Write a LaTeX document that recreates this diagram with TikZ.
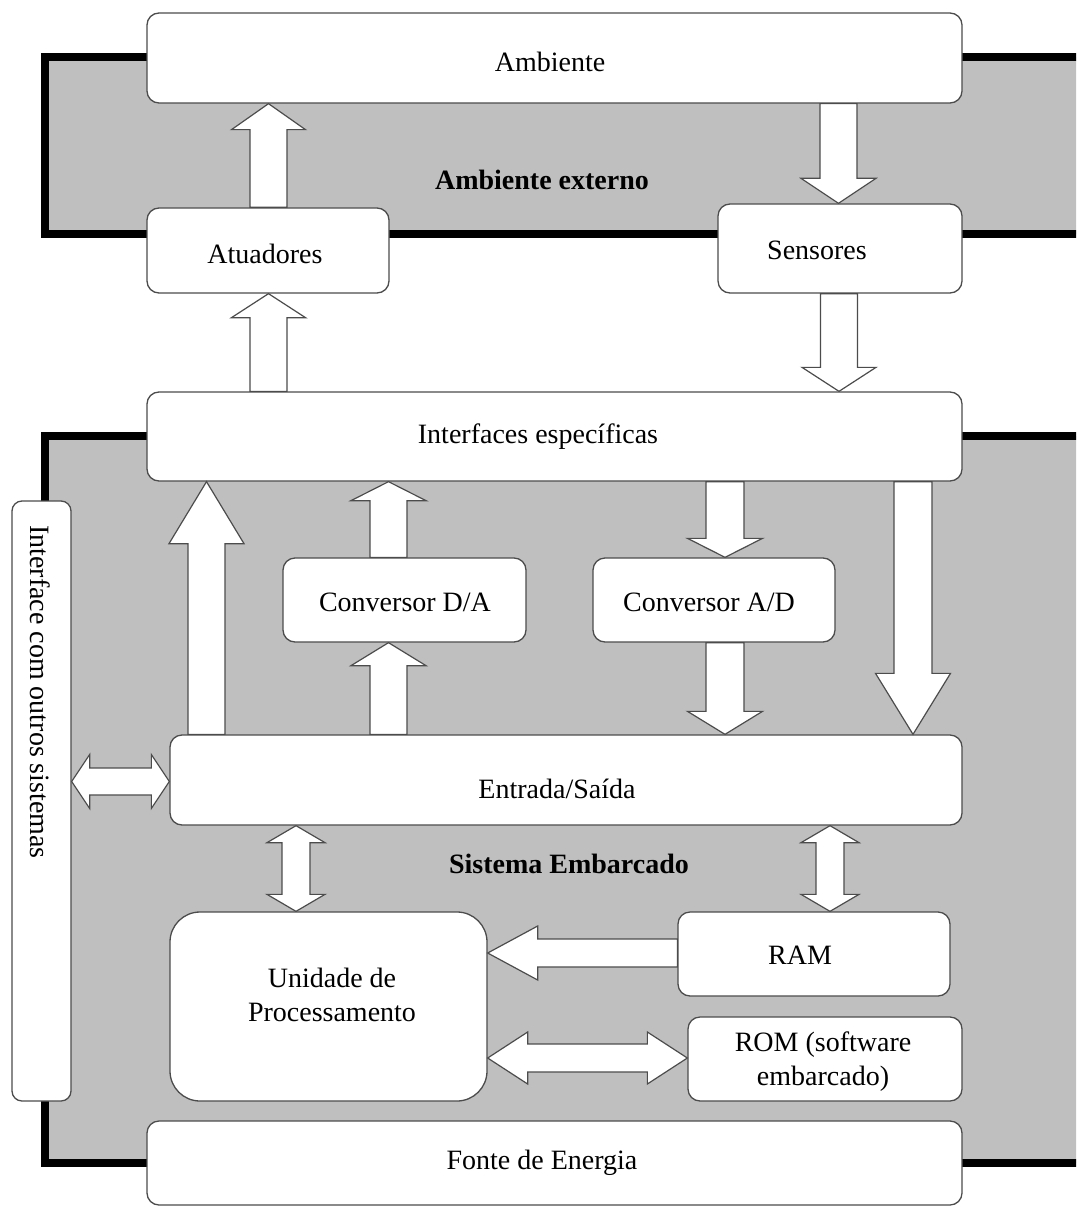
\documentclass[tikz,border=0pt]{standalone}
\usepackage{fontspec}
\setmainfont{Liberation Serif}
\usetikzlibrary{calc}
\definecolor{bandgray}{RGB}{191,191,191}
\newcommand\blockarrow[5]{%
  \path ($(#2)!#5!(#1)$) coordinate (hb);
  \draw[arr] ($(#1)!#3!90:(#2)$) -- ($(hb)!#3!90:(#2)$) -- ($(hb)!#4!90:(#2)$) -- (#2)
    -- ($(hb)!#4!-90:(#2)$) -- ($(hb)!#3!-90:(#2)$) -- ($(#1)!#3!-90:(#2)$) -- cycle;}
\newcommand\dblarrow[5]{%
  \path ($(#1)!#5!(#2)$) coordinate (ha) ($(#2)!#5!(#1)$) coordinate (hb);
  \draw[arr] (#1) -- ($(ha)!#4!90:(#2)$) -- ($(ha)!#3!90:(#2)$) -- ($(hb)!#3!90:(#2)$)
    -- ($(hb)!#4!90:(#2)$) -- (#2) -- ($(hb)!#4!-90:(#2)$) -- ($(hb)!#3!-90:(#2)$)
    -- ($(ha)!#3!-90:(#2)$) -- ($(ha)!#4!-90:(#2)$) -- cycle;}
\begin{document}
\begin{tikzpicture}[x=1pt,y=-1pt,
  band/.style={draw=black,line width=8pt,fill=bandgray},
  box/.style={draw=black!70,line width=1.3pt,fill=white,rounded corners=12pt,inner sep=0pt},
  arr/.style={draw=black!70,line width=1.2pt,fill=white,line join=miter},
  lbl/.style={font=\fontsize{28}{34}\selectfont,inner sep=0pt,align=center},
  blbl/.style={font=\fontsize{28}{34}\selectfont\bfseries,inner sep=0pt,align=center}]
\useasboundingbox (0,0) rectangle (1076,1206);
\clip (0,0) rectangle (1076,1206);
\fill[white] (0,0) rectangle (1076,1206);
% bands
\draw[band] (45,57) rectangle (1120,234.5);
\draw[band] (45,435.5) rectangle (1120,1162.5);
% boxes
\node[box,minimum width=815pt,minimum height=90pt] (amb) at (554.5,58) {};
\node[box,minimum width=242pt,minimum height=85pt] (atu) at (268,250.5) {};
\node[box,minimum width=244pt,minimum height=89pt] (sen) at (840,248.5) {};
\node[box,minimum width=815pt,minimum height=89pt] (int) at (554.5,436.5) {};
\node[box,minimum width=243pt,minimum height=84pt] (da) at (404.5,600) {};
\node[box,minimum width=242pt,minimum height=84pt] (ad) at (714,600) {};
\node[box,minimum width=792pt,minimum height=90pt] (es) at (566,780) {};
\node[box,rounded corners=10pt,minimum width=59pt,minimum height=600pt] (ifc) at (41.5,801) {};
\node[box,rounded corners=30pt,minimum width=317pt,minimum height=189pt] (up) at (328.5,1006.5) {};
\node[box,minimum width=272pt,minimum height=84pt] (ram) at (814,954) {};
\node[box,minimum width=274pt,minimum height=84pt] (rom) at (825,1059) {};
\node[box,minimum width=815pt,minimum height=84pt] (fonte) at (554.5,1163) {};
% connector end points
\coordinate (a1s) at (268.5,0 |- atu.north); \coordinate (a1t) at (268.5,0 |- amb.south);
\coordinate (a2s) at (838.5,0 |- amb.south); \coordinate (a2t) at (838.5,0 |- sen.north);
\coordinate (a3s) at (268.5,0 |- int.north); \coordinate (a3t) at (268.5,0 |- atu.south);
\coordinate (a4s) at (839,0 |- sen.south);   \coordinate (a4t) at (839,0 |- int.north);
\coordinate (a5s) at (206.5,0 |- es.north);  \coordinate (a5t) at (206.5,0 |- int.south);
\coordinate (a6s) at (388.5,0 |- es.north);  \coordinate (a6t) at (388.5,0 |- da.south);
\coordinate (a7s) at (388.5,0 |- da.north);  \coordinate (a7t) at (388.5,0 |- int.south);
\coordinate (a8s) at (725,0 |- int.south);   \coordinate (a8t) at (725,0 |- ad.north);
\coordinate (a9s) at (725,0 |- ad.south);    \coordinate (a9t) at (725,0 |- es.north);
\coordinate (a10s) at (913,0 |- int.south);  \coordinate (a10t) at (913,0 |- es.north);
\coordinate (a11s) at (ifc.east |- 0,781.5); \coordinate (a11t) at (es.west |- 0,781.5);
\coordinate (a12s) at (296,0 |- es.south);   \coordinate (a12t) at (296,0 |- up.north);
\coordinate (a13s) at (830,0 |- es.south);   \coordinate (a13t) at (830,0 |- ram.north);
\coordinate (a14s) at (ram.west |- 0,953);   \coordinate (a14t) at (up.east |- 0,953);
\coordinate (a15s) at (up.east |- 0,1058);   \coordinate (a15t) at (rom.west |- 0,1058);
% block arrows
\blockarrow{a1s}{a1t}{18.5pt}{37pt}{26pt}
\blockarrow{a2s}{a2t}{18.5pt}{37.5pt}{25pt}
\blockarrow{a3s}{a3t}{18.5pt}{37pt}{24pt}
\blockarrow{a4s}{a4t}{18.5pt}{37pt}{24pt}
\blockarrow{a5s}{a5t}{18.5pt}{37.5pt}{62pt}
\blockarrow{a6s}{a6t}{18.5pt}{37.5pt}{23pt}
\blockarrow{a7s}{a7t}{18.5pt}{37.5pt}{19pt}
\blockarrow{a8s}{a8t}{19pt}{37.5pt}{19pt}
\blockarrow{a9s}{a9t}{19pt}{37.5pt}{23pt}
\blockarrow{a10s}{a10t}{19pt}{37.5pt}{61pt}
\dblarrow{a11s}{a11t}{13.5pt}{27pt}{18pt}
\dblarrow{a12s}{a12t}{14pt}{29pt}{17pt}
\dblarrow{a13s}{a13t}{14pt}{29pt}{17pt}
\blockarrow{a14s}{a14t}{14pt}{27pt}{50pt}
\dblarrow{a15s}{a15t}{14pt}{26pt}{40pt}
% texts
\node[lbl] (ambT) at (550,62) {Ambiente};
\node[blbl] (extT) at (542,180) {Ambiente externo};
\node[lbl] (atuT) at (265,254) {Atuadores};
\node[lbl] (senT) at (817,250) {Sensores};
\node[lbl] (intT) at (538,437) {Interfaces específicas};
\node[lbl] (daT) at (405,602) {Conversor D/A};
\node[lbl] (adT) at (709,602) {Conversor A/D};
\node[lbl] (esT) at (557,789) {Entrada/Saída};
\node[blbl] (sisT) at (569,864) {Sistema Embarcado};
\node[lbl] (upT) at (332,995) {Unidade de\\Processamento};
\node[lbl] (ramT) at (800,955) {RAM};
\node[lbl] (romT) at (823,1062) {ROM (software\\embarcado)};
\node[lbl] (fonteT) at (542,1163) {Fonte de Energia};
\node[lbl,rotate=-90] (ifcT) at (40,692) {Interface com outros sistemas};
\end{tikzpicture}
\end{document}
